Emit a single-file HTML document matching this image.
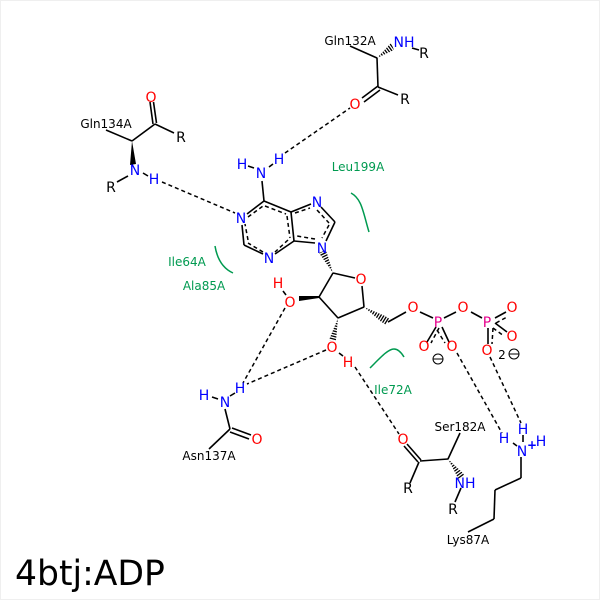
<!DOCTYPE html>
<html><head><meta charset="utf-8"><style>
html,body{margin:0;padding:0;background:#fff}
svg{display:block}
text{font-family:"DejaVu Sans",sans-serif;text-anchor:middle}
.a{font-size:14px}
.l{font-size:12px}
.b{fill:#0000ff}.r{fill:#ff0000}.p{fill:#e6008c}.g{fill:#009a50}.k{fill:#000}
.s line{stroke:#000;stroke-width:1.6;fill:none}
.d line{stroke:#000;stroke-width:1.5;stroke-dasharray:4 3}
.h line{stroke:#000;stroke-width:7;stroke-dasharray:1.3 1.3}
</style></head><body>
<svg width="600" height="600" viewBox="0 0 600 600" xmlns="http://www.w3.org/2000/svg">
<defs>
<clipPath id="w1"><polygon points="333,273 326,250 319,253"/></clipPath>
<clipPath id="w2"><polygon points="364,307 386,326 390,318"/></clipPath>
<clipPath id="w3"><polygon points="338,318 329,340 336,341"/></clipPath>
<clipPath id="w4"><polygon points="377,58 391,43 394,50"/></clipPath>
<clipPath id="w5"><polygon points="448,459 459,480 465,475"/></clipPath>
</defs>
<rect x="0.5" y="0.5" width="599" height="599" fill="#fff" stroke="#efefef"/>

<g class="s">
<line x1="106" y1="130" x2="132" y2="141"/>
<line x1="132" y1="141" x2="155" y2="124"/>
<line x1="150" y1="102" x2="153" y2="124"/>
<line x1="153.5" y1="102" x2="156.5" y2="123"/>
<line x1="155" y1="124" x2="174" y2="133"/>
<line x1="128" y1="176" x2="117" y2="182"/>
<line x1="143" y1="173" x2="148" y2="176"/>
<line x1="350" y1="46" x2="377" y2="58"/>
<line x1="377" y1="58" x2="378" y2="87"/>
<line x1="378" y1="87" x2="398" y2="95"/>
<line x1="378" y1="86" x2="362" y2="98"/>
<line x1="380" y1="90" x2="364" y2="102"/>
<line x1="412" y1="48" x2="419" y2="50"/>
<line x1="264" y1="201" x2="262" y2="181"/>
<line x1="269" y1="167" x2="273" y2="164"/>
<line x1="248" y1="166" x2="254" y2="168"/>
<line x1="247" y1="214" x2="264" y2="201"/>
<line x1="264" y1="201" x2="291" y2="212"/>
<line x1="291" y1="212" x2="294" y2="241"/>
<line x1="294" y1="241" x2="275" y2="254"/>
<line x1="263" y1="254" x2="244" y2="245"/>
<line x1="244" y1="245" x2="242" y2="225"/>
<line x1="291" y1="212" x2="311" y2="204"/>
<line x1="321" y1="207" x2="335" y2="222"/>
<line x1="335" y1="222" x2="326" y2="241"/>
<line x1="315" y1="243" x2="294" y2="241"/>
<line x1="333" y1="273" x2="319" y2="297"/>
<line x1="333" y1="273" x2="355" y2="278"/>
<line x1="362" y1="286" x2="364" y2="307"/>
<line x1="364" y1="307" x2="338" y2="318"/>
<line x1="338" y1="318" x2="319" y2="297"/>
<line x1="388" y1="322" x2="406" y2="312"/>
<line x1="420" y1="312" x2="433" y2="318"/>
<line x1="444" y1="318" x2="456" y2="312"/>
<line x1="471" y1="312" x2="482" y2="318"/>
<line x1="436" y1="327" x2="427" y2="342"/>
<line x1="442" y1="327" x2="449" y2="342"/>
<line x1="495" y1="318" x2="506" y2="312"/>
<line x1="495" y1="323" x2="507" y2="332"/>
<line x1="488" y1="328" x2="488" y2="344"/>
<line x1="283" y1="291" x2="286" y2="295"/>
<line x1="339" y1="353" x2="343" y2="356"/>
<line x1="225" y1="409" x2="230" y2="429"/>
<line x1="230" y1="429" x2="209" y2="449"/>
<line x1="232" y1="428" x2="251" y2="435"/>
<line x1="230" y1="432" x2="249" y2="439"/>
<line x1="212" y1="397" x2="218" y2="399"/>
<line x1="230" y1="396" x2="235" y2="393"/>
<line x1="420" y1="461" x2="448" y2="459"/>
<line x1="448" y1="459" x2="460" y2="433"/>
<line x1="419" y1="462" x2="410" y2="483"/>
<line x1="421" y1="460" x2="407" y2="444"/>
<line x1="418" y1="462" x2="404" y2="446"/>
<line x1="461" y1="488" x2="455" y2="502"/>
<line x1="521" y1="457" x2="521" y2="478"/>
<line x1="521" y1="478" x2="495" y2="490"/>
<line x1="495" y1="490" x2="494" y2="519"/>
<line x1="494" y1="519" x2="468" y2="532"/>
<line x1="513" y1="443" x2="517" y2="446"/>
<line x1="523" y1="435" x2="523" y2="442"/>
</g>

<g class="d">
<line x1="162" y1="182" x2="235" y2="213"/>
<line x1="285" y1="153" x2="350" y2="108"/>
<line x1="285" y1="308" x2="243" y2="383"/>
<line x1="326" y1="350" x2="247" y2="384"/>
<line x1="355" y1="367" x2="399" y2="434"/>
<line x1="457" y1="353" x2="502" y2="433"/>
<line x1="490" y1="357" x2="521" y2="423"/>
<line x1="248" y1="217" x2="263" y2="206"/>
<line x1="265" y1="206" x2="286" y2="214"/>
<line x1="287" y1="216" x2="290" y2="238"/>
<line x1="288" y1="240" x2="275" y2="252"/>
<line x1="263" y1="252" x2="248" y2="243"/>
<line x1="248" y1="240" x2="245" y2="224"/>
<line x1="295" y1="213" x2="310" y2="208"/>
<line x1="317" y1="210" x2="329" y2="223"/>
<line x1="329" y1="225" x2="322" y2="238"/>
<line x1="315" y1="239" x2="297" y2="236"/>
<line x1="439" y1="328" x2="431" y2="343"/>
<line x1="437" y1="330" x2="445" y2="343"/>
<line x1="496" y1="323" x2="507" y2="317"/>
<line x1="493" y1="328" x2="504" y2="336"/>
<line x1="493" y1="328" x2="492" y2="344"/>
</g>

<polygon points="132,141 130,165 136,164" fill="#000"/>
<polygon points="319,296 299,296 299,301 319,298" fill="#000"/>

<g class="h">
<line x1="333" y1="273" x2="322" y2="251" clip-path="url(#w1)"/>
<line x1="364" y1="307" x2="388" y2="322" clip-path="url(#w2)"/>
<line x1="338" y1="318" x2="332" y2="341" clip-path="url(#w3)"/>
<line x1="377" y1="58" x2="393" y2="46" clip-path="url(#w4)"/>
<line x1="448" y1="459" x2="462" y2="478" clip-path="url(#w5)"/>
</g>

<g fill="none" stroke="#009a50" stroke-width="1.5">
<path d="M351,193 C362,199 363,212 369,232"/>
<path d="M215,246 C217,258 222,268 233,273"/>
<path d="M370,368 C380,358 388,349 394,349 C398,349 401,352 404,357"/>
</g>

<g class="l k">
<text x="106" y="128">Gln134A</text>
<text x="350" y="45">Gln132A</text>
<text x="209" y="460">Asn137A</text>
<text x="460" y="431">Ser182A</text>
<text x="468" y="544">Lys87A</text>
</g>
<g class="l g">
<text x="358" y="171">Leu199A</text>
<text x="187" y="266">Ile64A</text>
<text x="204" y="290">Ala85A</text>
<text x="393" y="394">Ile72A</text>
</g>

<g class="a k">
<text x="181" y="142">R</text>
<text x="111" y="192">R</text>
<text x="424" y="58">R</text>
<text x="405" y="104">R</text>
<text x="408" y="493">R</text>
<text x="453" y="514">R</text>
<text x="502" y="359" style="font-size:12px">2</text>
</g>
<g class="a b">
<text x="135" y="175">N</text>
<text x="154" y="184">H</text>
<text x="261" y="178">N</text>
<text x="242" y="169">H</text>
<text x="279" y="164">H</text>
<text x="404" y="47">NH</text>
<text x="241" y="223">N</text>
<text x="269" y="263">N</text>
<text x="317" y="207">N</text>
<text x="322" y="253">N</text>
<text x="225" y="407">N</text>
<text x="204" y="400">H</text>
<text x="240" y="393">H</text>
<text x="465" y="488">NH</text>
<text x="522" y="456">N</text>
<text x="523" y="434">H</text>
<text x="504" y="443">H</text>
<text x="541" y="446">H</text>
<text x="532" y="449" style="font-size:12px;font-weight:bold">+</text>
</g>
<g class="a r">
<text x="151" y="102">O</text>
<text x="355" y="109">O</text>
<text x="361" y="284">O</text>
<text x="290" y="307">O</text>
<text x="278" y="288">H</text>
<text x="332" y="352">O</text>
<text x="348" y="367">H</text>
<text x="413" y="312">O</text>
<text x="463" y="312">O</text>
<text x="512" y="312">O</text>
<text x="512" y="341">O</text>
<text x="487" y="355">O</text>
<text x="424" y="351">O</text>
<text x="452" y="351">O</text>
<text x="257" y="444">O</text>
<text x="403" y="444">O</text>
</g>
<g class="a p">
<text x="438" y="327">P</text>
<text x="487" y="327">P</text>
</g>

<g fill="none" stroke="#000" stroke-width="1">
<circle cx="438" cy="359" r="5"/><line x1="433" y1="359" x2="443" y2="359"/>
<circle cx="514" cy="354" r="5"/><line x1="509" y1="354" x2="519" y2="354"/>
</g>

<text x="15" y="585" style="font-size:34.6px;text-anchor:start" fill="#000">4btj:ADP</text>
</svg>
</body></html>
